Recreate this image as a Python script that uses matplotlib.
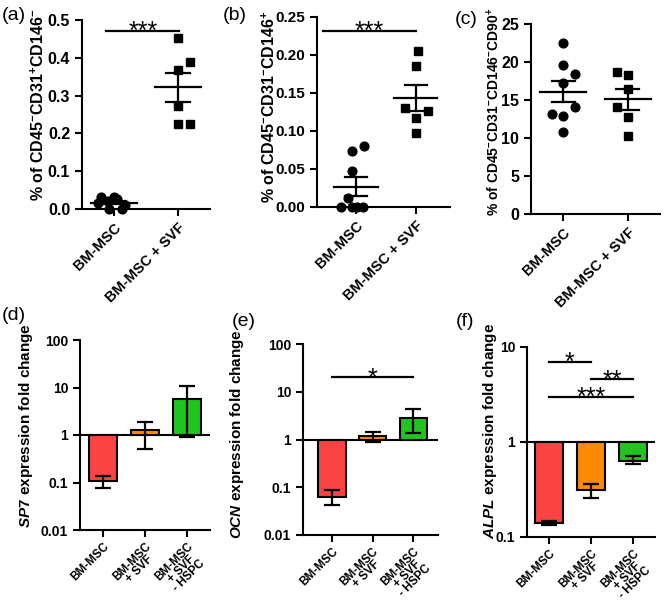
import matplotlib.pyplot as plt
import numpy as np

plt.rcParams['font.family'] = 'Liberation Sans'
plt.rcParams['font.weight'] = 'bold'
plt.rcParams['axes.labelweight'] = 'bold'
plt.rcParams['mathtext.fontset'] = 'custom'
plt.rcParams['mathtext.rm'] = 'Liberation Sans:bold'
plt.rcParams['mathtext.it'] = 'Liberation Sans:italic:bold'
plt.rcParams['mathtext.bf'] = 'Liberation Sans:bold'
plt.rcParams['mathtext.default'] = 'rm'

# ---- data: flow cytometry (% of cells) ----
groups_top = ['BM-MSC', 'BM-MSC + SVF']
a_bm = [0.033, 0.031, 0.026, 0.020, 0.016, 0.010, 0.0, 0.0]
a_svf = [0.452, 0.388, 0.367, 0.272, 0.226, 0.226]
b_bm = [0.080, 0.074, 0.048, 0.012, 0.0, 0.0, 0.0, 0.0]
b_svf = [0.205, 0.185, 0.130, 0.126, 0.117, 0.098]
c_bm = [22.5, 19.6, 18.4, 17.2, 14.1, 13.2, 12.9, 10.8]
c_svf = [18.7, 18.3, 16.4, 14.1, 12.8, 10.2]

# ---- data: qPCR fold change (mean, lower, upper) ----
groups_bar = ['BM-MSC', 'BM-MSC\n+ SVF', 'BM-MSC\n+ SVF\n- HSPC']
sp7_mean = [0.107, 1.25, 5.6]
sp7_lo = [0.075, 0.51, 0.89]
sp7_hi = [0.137, 1.9, 10.6]
ocn_mean = [0.062, 1.18, 2.85]
ocn_lo = [0.043, 0.88, 1.34]
ocn_hi = [0.086, 1.42, 4.4]
alpl_mean = [0.142, 0.31, 0.63]
alpl_lo = [0.135, 0.255, 0.59]
alpl_hi = [0.149, 0.365, 0.71]

bar_colors = ['#FA4343', '#FF8A00', '#1FC41F']

# jitter used by the scatter plots (x units)
a_bm_dx = [-0.2, 0.0, 0.05, -0.1, -0.25, 0.17, 0.12, -0.08]
a_svf_dx = [0, 0.18, 0, 0, 0, 0.18]
b_bm_dx = [0.13, -0.07, -0.07, -0.13, -0.25, -0.07, 0.02, 0.12]
b_svf_dx = [0.03, 0.01, -0.18, 0.2, 0.01, 0.01]
c_bm_dx = [0, 0, 0.18, 0, 0.18, -0.17, 0, 0]
c_svf_dx = [-0.17, 0, 0, -0.17, 0, 0]

W, H = 672, 605
fig = plt.figure(figsize=(W / 100, H / 100), dpi=100)


def px_axes(left, right, top, bottom):
    return fig.add_axes([left / W, 1 - bottom / H, (right - left) / W, (bottom - top) / H])


def style(ax, fs_tick, fs_x, xpad=3.5):
    for s in ['top', 'right']:
        ax.spines[s].set_visible(False)
    for s in ['left', 'bottom']:
        ax.spines[s].set_linewidth(1.5)
    ax.tick_params(width=1.5, length=5, direction='out', labelsize=fs_tick)
    ax.tick_params(axis='x', labelsize=fs_x, pad=xpad)
    ax.minorticks_off()
    plt.setp(ax.get_xticklabels() + ax.get_yticklabels(), fontweight='bold')


def scatter_panel(ax, bm, svf, dx_bm, dx_svf):
    for i, (vals, dx, mk, ms) in enumerate([(bm, dx_bm, 'o', 6.3), (svf, dx_svf, 's', 5.8)]):
        vals = np.array(vals)
        ax.plot(i + np.array(dx), vals, mk, color='k', ms=ms, clip_on=False, zorder=3)
        m = vals.mean()
        sem = vals.std(ddof=1) / np.sqrt(len(vals))
        ax.plot([i - 0.36, i + 0.36], [m, m], color='k', lw=1.6, zorder=4)
        ax.plot([i, i], [m - sem, m + sem], color='k', lw=1.6, zorder=4)
        for y in (m - sem, m + sem):
            ax.plot([i - 0.18, i + 0.18], [y, y], color='k', lw=1.6, zorder=4)
    ax.set_xticks([0, 1])
    ax.set_xticklabels(groups_top, rotation=45, ha='right', rotation_mode='anchor')


def bar_panel(ax, mean, lo, hi):
    x = np.arange(3)
    mean = np.array(mean)
    ax.bar(x, mean - 1, bottom=1, width=0.68, color=bar_colors, edgecolor='k', linewidth=1.5, zorder=2)
    ax.errorbar(x, mean, yerr=[mean - np.array(lo), np.array(hi) - mean], fmt='none',
                ecolor='k', elinewidth=1.6, capsize=6, capthick=1.6, zorder=3)
    ax.axhline(1, color='k', lw=1.5, zorder=1)
    ax.set_yscale('log')
    ax.set_xticks(x)
    ax.set_xticklabels(groups_bar, rotation=45, ha='right', rotation_mode='anchor',
                       multialignment='center', linespacing=0.8)


def sig(ax, x0, x1, y, txt, fs=18):
    ax.plot([x0, x1], [y, y], color='k', lw=1.6, clip_on=False)
    ax.annotate(txt, ((x0 + x1) / 2, y), xytext=(0, -6), textcoords='offset points',
                ha='center', va='baseline', fontsize=fs, fontweight='normal')


# ---- (a) ----
ax = px_axes(82, 210, 20, 209)
scatter_panel(ax, a_bm, a_svf, a_bm_dx, a_svf_dx)
ax.set_xlim(-0.5, 1.5)
ax.set_ylim(0, 0.5)
ax.set_yticks(np.arange(0, 0.51, 0.1))
ax.set_yticklabels([f'{v:.1f}' for v in np.arange(0, 0.51, 0.1)])
style(ax, 11.5, 10.5)
ax.set_ylabel('% of CD45$^{-}$CD31$^{+}$CD146$^{-}$', fontsize=11.5, va='center')
ax.yaxis.set_label_coords((38 - 82) / 128, 0.55)
sig(ax, -0.12, 1.02, 0.472, '***')

# ---- (b) ----
ax = px_axes(317, 450, 17, 207)
scatter_panel(ax, b_bm, b_svf, b_bm_dx, b_svf_dx)
ax.set_xlim(-0.65, 1.57)
ax.set_ylim(0, 0.25)
ax.set_yticks(np.arange(0, 0.251, 0.05))
ax.set_yticklabels([f'{v:.2f}' for v in np.arange(0, 0.251, 0.05)])
style(ax, 11, 10.5)
ax.set_ylabel('% of CD45$^{-}$CD31$^{-}$CD146$^{+}$', fontsize=11.5, va='center')
ax.yaxis.set_label_coords((269 - 317) / 133, 0.53)
sig(ax, -0.55, 1.0, 0.2316, '***')

# ---- (c) ----
ax = px_axes(531, 660, 24, 214)
scatter_panel(ax, c_bm, c_svf, c_bm_dx, c_svf_dx)
ax.set_xlim(-0.5, 1.5)
ax.set_ylim(0, 25)
ax.set_yticks(np.arange(0, 26, 5))
style(ax, 11.5, 10.5)
ax.set_ylabel('% of CD45$^{-}$CD31$^{-}$CD146$^{-}$CD90$^{+}$', fontsize=10, va='center')
ax.yaxis.set_label_coords((494 - 531) / 129, 0.54)

# ---- (d) ----
ax = px_axes(80, 210, 340, 530)
bar_panel(ax, sp7_mean, sp7_lo, sp7_hi)
ax.set_xlim(-0.55, 2.55)
ax.set_ylim(0.01, 100)
ax.set_yticks([0.01, 0.1, 1, 10, 100])
ax.set_yticklabels(['0.01', '0.1', '1', '10', '100'])
style(ax, 10, 8.5, xpad=2.5)
ax.set_ylabel('$\\it{SP7}$ expression fold change', fontsize=11, va='center')
ax.yaxis.set_label_coords((26 - 80) / 130, 0.55)

# ---- (e) ----
ax = px_axes(303, 438, 344, 535)
bar_panel(ax, ocn_mean, ocn_lo, ocn_hi)
ax.set_xlim(-0.7, 2.6)
ax.set_ylim(0.01, 100)
ax.set_yticks([0.01, 0.1, 1, 10, 100])
ax.set_yticklabels(['0.01', '0.1', '1', '10', '100'])
style(ax, 10, 8.5, xpad=2.5)
ax.set_ylabel('$\\it{OCN}$ expression fold change', fontsize=11, va='center')
ax.yaxis.set_label_coords((237 - 303) / 135, 0.53)
sig(ax, 0, 2, 20, '*')

# ---- (f) ----
ax = px_axes(527, 655, 347, 537)
bar_panel(ax, alpl_mean, alpl_lo, alpl_hi)
ax.set_xlim(-0.52, 2.52)
ax.set_ylim(0.1, 10)
ax.set_yticks([0.1, 1, 10])
ax.set_yticklabels(['0.1', '1', '10'])
style(ax, 10, 8.5, xpad=2.5)
ax.set_ylabel('$\\it{ALPL}$ expression fold change', fontsize=11, va='center')
ax.yaxis.set_label_coords((490 - 527) / 128, 0.56)
sig(ax, 0, 1, 7.0, '*')
sig(ax, 1, 2, 4.6, '**')
sig(ax, 0, 2, 3.0, '***')

# panel letters
for x, y, t in [(2, 16, '(a)'), (223, 16, '(b)'), (455, 20, '(c)'),
                (2, 316, '(d)'), (232, 321, '(e)'), (456, 322, '(f)')]:
    fig.text(x / W, 1 - y / H, t, fontsize=14, fontweight='normal', va='center', ha='left')

fig.savefig('out.png', dpi=100)
